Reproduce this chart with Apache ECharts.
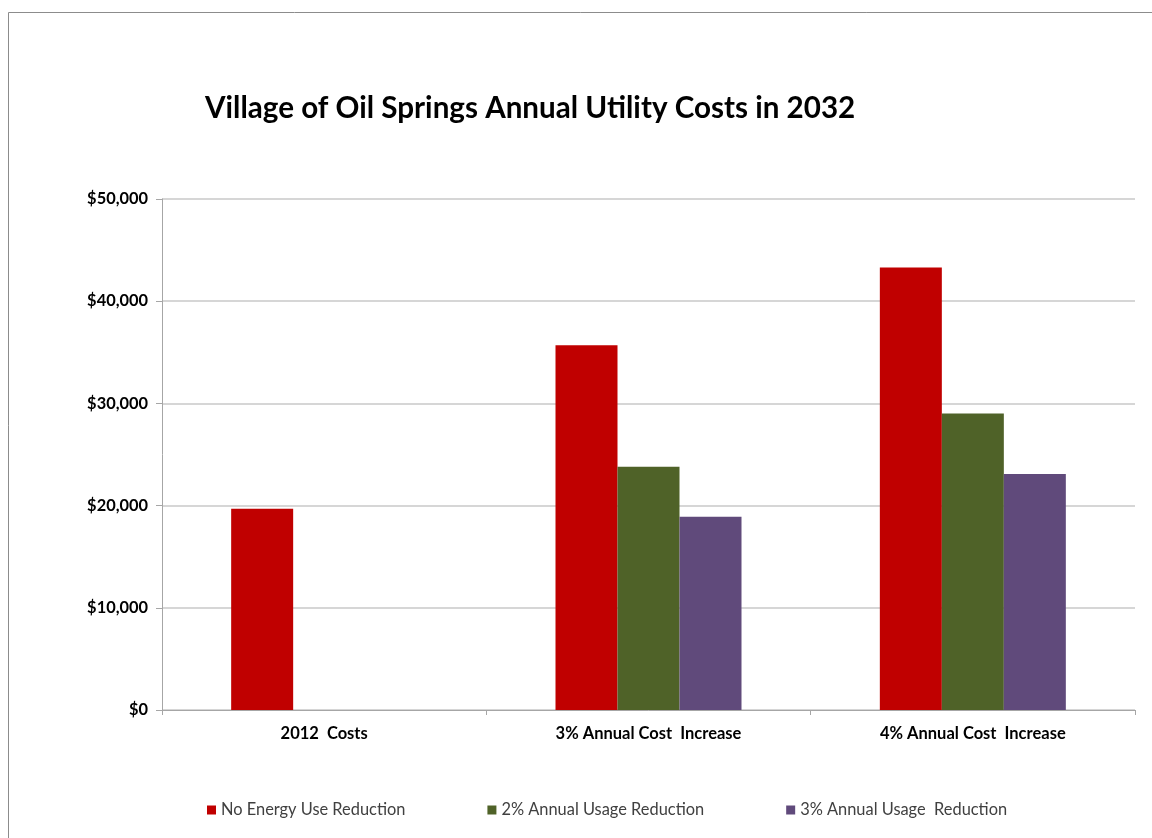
<!DOCTYPE html>
<html>
<head>
<meta charset="utf-8">
<script src="https://cdn.jsdelivr.net/npm/echarts@6/dist/echarts.min.js"></script>
<style>
html,body{margin:0;padding:0;background:#fff;}
#chart{width:1152px;height:838px;}
</style>
</head>
<body>
<div id="chart"></div>
<script>
var categories = ['2012  Costs', '3% Annual Cost  Increase', '4% Annual Cost  Increase'];
var seriesNames = ['No Energy Use Reduction', '2% Annual Usage Reduction', '3% Annual Usage  Reduction'];
var noReduction = [19700, 35700, 43300];
var usage2 = [null, 23800, 29000];
var usage3 = [null, 18900, 23100];
var yTicks = [0, 10000, 20000, 30000, 40000, 50000];
var colors = ['#C00000', '#4F6228', '#604A7B'];

var chart = echarts.init(document.getElementById('chart'));
var font = 'Lato, "Open Sans", sans-serif';
function fmt(v){ return '$' + v.toLocaleString('en-US'); }
chart.setOption({
  animation: false,
  backgroundColor: '#fff',
  color: colors,
  title: {
    text: 'Village of Oil Springs Annual Utility Costs in 2032',
    left: 200, top: 88,
    textStyle: {fontFamily: font, fontSize: 29.6, fontWeight: 'bold', color: '#000'}
  },
  graphic: [{
    type: 'rect', shape: {x: 8.5, y: 12.5, width: 1300, height: 1000},
    style: {fill: 'none', stroke: '#8c8c8c', lineWidth: 1}, silent: true
  }],
  legend: {
    left: 202, top: 797, itemGap: 82, itemWidth: 9, itemHeight: 9, icon: 'rect',
    textStyle: {fontFamily: font, fontSize: 16.4, color: '#404040'},
    data: seriesNames
  },
  grid: {left: 162, right: 17, top: 199, bottom: 128},
  xAxis: {
    type: 'category', data: categories,
    axisLine: {lineStyle: {color: '#a6a6a6'}},
    axisTick: {show: true, length: 5, lineStyle: {color: '#a6a6a6'}},
    axisLabel: {fontFamily: font, fontSize: 16.5, fontWeight: 'bold', color: '#000', margin: 15}
  },
  yAxis: {
    type: 'value', min: yTicks[0], max: yTicks[yTicks.length-1], interval: 10000,
    axisLine: {show: true, lineStyle: {color: '#a6a6a6'}},
    axisTick: {show: true, length: 6, lineStyle: {color: '#a6a6a6'}},
    splitLine: {lineStyle: {color: '#c8c8c8', width: 1.5}},
    axisLabel: {fontFamily: font, fontSize: 16.4, fontWeight: 'bold', color: '#000', margin: 14, formatter: fmt}
  },
  series: [
    {name: seriesNames[0], type: 'bar', data: noReduction, barWidth: 62, barGap: '0%'},
    {name: seriesNames[1], type: 'bar', data: usage2, barWidth: 62, barGap: '0%'},
    {name: seriesNames[2], type: 'bar', data: usage3, barWidth: 62, barGap: '0%'}
  ]
});
</script>
</body>
</html>
